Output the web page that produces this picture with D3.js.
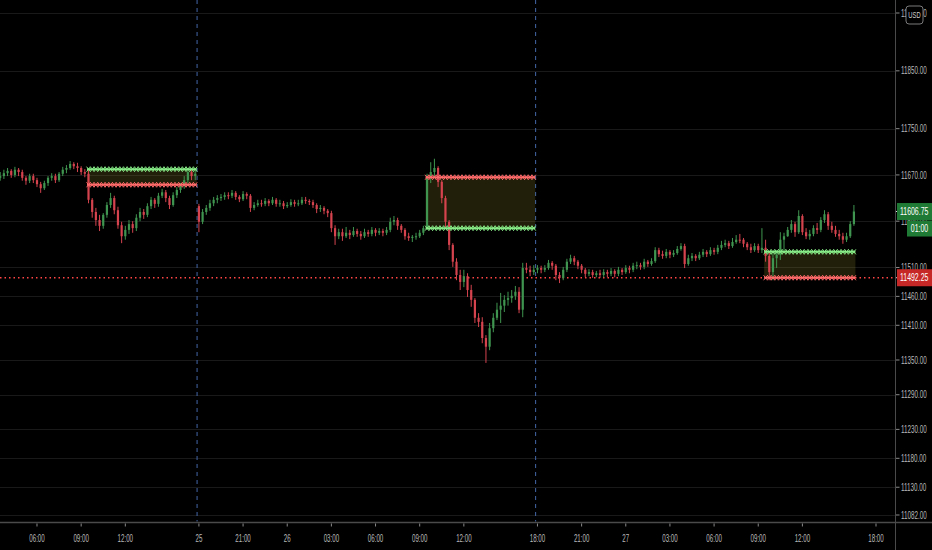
<!DOCTYPE html>
<html><head><meta charset="utf-8">
<script src="https://cdn.jsdelivr.net/npm/d3@7/dist/d3.min.js"></script>
<style>html,body{margin:0;padding:0;background:#000;overflow:hidden}</style>
</head><body>
<svg id="c" width="932" height="550"></svg>
<script>
// ---- DATA (15-minute bars, index 0 = 03:30) ----
const openP = [
11665,11668,11673,11677,11670,11679,11675,11665,11660,11668,11661,11654,11647,11656,11665,11668,11661,11672,11679,11682,11689,11685,11682,11675,
11672,11627,11606,11592,11582,11601,11618,11630,11609,11583,11564,11575,11585,11578,11596,11606,11601,11616,11627,11620,11634,11640,11630,11618,11635,11644,11651,11661,11675,11668,
11616,11589,11606,11613,11621,11627,11630,11632,11635,11634,11639,11632,11628,11637,11634,11613,11618,11621,11620,11625,11621,11627,11620,11621,11616,11618,11623,11620,11621,11627,11625,11623,11618,11611,11613,11608,
11604,11578,11564,11571,11564,11570,11566,11573,11568,11564,11571,11568,11575,11570,11573,11570,11575,11589,11592,11582,11575,11564,11561,11563,11564,11570,
11578,11665,11675,11682,11658,11630,11589,11549,11520,11497,11485,11495,11471,11454,11423,11416,11388,11373,11405,11423,11437,11444,11454,11457,11461,11468,11437,11509,11506,11502,
11506,11509,11506,11509,11518,11513,11497,11492,11506,11520,11526,11520,11513,11506,11499,11502,11497,11500,11497,11502,11499,11504,11499,11506,11502,11509,11506,11513,11514,11511,11520,11516,
11521,11540,11533,11530,11537,11532,11535,11542,11547,11516,11526,11530,11526,11532,11537,11533,11540,11537,11544,11549,11552,11547,11554,11558,11558,11551,11545,11540,11547,11540,
11544,11530,11502,11526,11532,11558,11564,11575,11585,11571,11599,11571,11564,11568,11578,11575,11592,11602,11582,11575,11568,11564,11558,11564,11585];
const highP = [
11675,11679,11682,11680,11684,11682,11679,11668,11672,11672,11665,11658,11660,11668,11673,11672,11675,11684,11687,11694,11692,11691,11685,11680,
11680,11630,11613,11601,11604,11623,11639,11634,11615,11589,11582,11592,11590,11602,11613,11611,11621,11632,11630,11639,11646,11644,11634,11640,11649,11656,11668,11682,11679,11680,
11620,11611,11618,11627,11632,11635,11637,11640,11640,11644,11642,11635,11642,11640,11637,11623,11627,11627,11630,11628,11632,11630,11627,11625,11623,11628,11627,11627,11632,11632,11628,11627,11621,11618,11616,11611,
11608,11583,11577,11577,11580,11575,11580,11577,11573,11577,11575,11580,11578,11578,11577,11580,11596,11599,11596,11585,11578,11570,11566,11570,11575,11582,
11672,11692,11698,11685,11661,11634,11592,11552,11526,11506,11506,11500,11480,11457,11431,11424,11393,11414,11431,11449,11466,11462,11468,11471,11478,11476,11518,11518,11513,11514,
11514,11513,11514,11523,11521,11516,11502,11511,11525,11532,11530,11523,11516,11509,11507,11506,11504,11506,11507,11506,11509,11507,11511,11509,11514,11513,11518,11520,11518,11525,11523,11526,
11545,11544,11539,11542,11540,11540,11547,11552,11551,11532,11535,11533,11537,11542,11540,11545,11544,11549,11556,11558,11556,11561,11566,11568,11561,11554,11551,11552,11551,11578,
11558,11537,11535,11540,11571,11570,11580,11592,11589,11609,11602,11578,11575,11583,11587,11597,11609,11606,11589,11582,11575,11570,11570,11590,11618];
const lowP = [
11660,11663,11668,11665,11666,11668,11660,11653,11656,11656,11649,11639,11644,11651,11660,11656,11658,11668,11673,11679,11680,11675,11670,11666,
11621,11596,11582,11573,11577,11596,11613,11602,11577,11552,11558,11568,11570,11573,11590,11594,11597,11611,11613,11615,11630,11623,11611,11615,11630,11639,11646,11656,11661,11661,
11571,11585,11601,11608,11616,11621,11625,11627,11628,11630,11627,11623,11625,11628,11606,11609,11615,11615,11616,11616,11618,11615,11615,11611,11613,11615,11615,11616,11618,11620,11618,11613,11604,11606,11602,11597,
11571,11549,11559,11556,11561,11559,11563,11563,11558,11561,11563,11564,11564,11566,11564,11566,11571,11583,11575,11570,11558,11556,11554,11558,11561,11566,
11575,11656,11665,11649,11621,11580,11540,11511,11488,11471,11476,11459,11442,11414,11407,11379,11345,11367,11398,11419,11414,11433,11444,11449,11454,11431,11424,11500,11495,11497,
11500,11500,11502,11506,11506,11488,11483,11488,11502,11516,11514,11507,11500,11493,11495,11492,11493,11492,11493,11493,11495,11493,11495,11497,11499,11500,11502,11507,11506,11507,11511,11513,
11518,11528,11525,11526,11526,11528,11532,11539,11509,11513,11521,11521,11523,11528,11528,11530,11532,11533,11540,11545,11542,11544,11551,11552,11545,11540,11535,11537,11535,11535,
11520,11488,11488,11509,11523,11540,11563,11570,11563,11568,11566,11559,11558,11564,11568,11571,11587,11575,11570,11563,11558,11551,11554,11561,11582];
const closeP = [
11668,11673,11677,11670,11679,11675,11665,11660,11668,11661,11654,11647,11656,11665,11668,11661,11672,11679,11682,11689,11685,11682,11675,11672,
11627,11606,11592,11582,11601,11618,11630,11609,11583,11564,11575,11585,11578,11596,11606,11601,11616,11627,11620,11634,11640,11630,11618,11635,11644,11651,11661,11675,11668,11672,
11589,11606,11613,11621,11627,11630,11632,11635,11634,11639,11632,11628,11637,11634,11613,11618,11621,11620,11625,11621,11627,11620,11621,11616,11618,11623,11620,11621,11627,11625,11623,11618,11611,11613,11608,11604,
11578,11564,11571,11564,11570,11566,11573,11568,11564,11571,11568,11575,11570,11573,11570,11575,11589,11592,11582,11575,11564,11561,11563,11564,11570,11578,
11665,11675,11682,11658,11630,11589,11549,11520,11497,11485,11495,11471,11454,11423,11416,11388,11373,11405,11423,11437,11444,11454,11457,11461,11468,11437,11509,11506,11502,11506,
11509,11506,11509,11518,11513,11497,11492,11506,11520,11526,11520,11513,11506,11499,11502,11497,11500,11497,11502,11499,11504,11499,11506,11502,11509,11506,11513,11514,11511,11520,11516,11521,
11540,11533,11530,11537,11532,11535,11542,11547,11516,11526,11530,11526,11532,11537,11533,11540,11537,11544,11549,11552,11547,11554,11558,11557,11551,11545,11540,11547,11540,11544,
11530,11502,11526,11532,11558,11564,11575,11585,11571,11599,11571,11564,11568,11578,11575,11592,11602,11582,11575,11568,11564,11558,11564,11585,11606.75];

const yTickValues = [11950,11850,11750,11670,11590,11510,11460,11410,11350,11290,11230,11180,11130,11082];
const xTickBars   = [10,22,34,54,66,78,90,102,114,126,146,158,170,182,194,206,218,238];
const xTickLabels = ["06:00","09:00","12:00","25","21:00","26","03:00","06:00","09:00","12:00","18:00","21:00","27","03:00","06:00","09:00","12:00","18:00"];
const sessionBreakBars = [53.5,145.5];
const boxStartBar = [24,116,208];
const boxEndBar   = [53,145,232];
const boxUpperLevel = [11680,11666,11537];
const boxLowerLevel = [11653,11578,11492.25];
const boxUpperIsGreen = [true,false,true];
const lastPrice = 11606.75;
const alertLevel = 11492.25;
const countdownText = "01:00";
const currencyText = "USD";

// ---- CHART ----
const W = 932, H = 550, axisX = 895.5, axisY = 522.5;
const FONT = "Liberation Sans, Arial, sans-serif";
const svg = d3.select("#c");
svg.append("rect").attr("width",W).attr("height",H).attr("fill","#000");

const x = d3.scaleLinear().domain([0,238]).range([0.2,876]);
const y = d3.scaleLinear().domain([11082,11950]).range([515,13]);

const GREEN = "#3f954f", RED = "#d4434e";
const LG = "#86ea86", LR = "#ff6a6a";

// condensed text: horizontal scale around the anchor point
function label(parent, tx, ty, str, opts){
  const g = parent.append("g").attr("transform",`translate(${tx},${ty}) scale(${opts.r},1)`);
  return g.append("text").attr("x",0).attr("y",0).attr("dominant-baseline","central")
    .attr("text-anchor",opts.anchor||"start")
    .attr("font-family",FONT).attr("font-size",opts.size).attr("fill",opts.fill).text(str);
}

const pg = svg.append("g");
svg.append("clipPath").attr("id","pc").append("rect").attr("x",0).attr("y",0).attr("width",axisX-0.5).attr("height",axisY-1);
pg.attr("clip-path","url(#pc)");

// grid
pg.selectAll("line.grid").data(yTickValues).join("line")
  .attr("x1",0).attr("x2",axisX).attr("y1",d=>Math.round(y(d))+0.5).attr("y2",d=>Math.round(y(d))+0.5)
  .attr("stroke","#191919").attr("stroke-width",1);

// session separators
pg.selectAll("line.sep").data(sessionBreakBars).join("line")
  .attr("x1",d=>x(d)).attr("x2",d=>x(d)).attr("y1",0).attr("y2",axisY)
  .attr("stroke","#4467a8").attr("stroke-width",1).attr("stroke-dasharray","4,4");

// boxes
const boxes = boxStartBar.map((s,i)=>({s, e:boxEndBar[i], top:boxUpperLevel[i], bot:boxLowerLevel[i], g:boxUpperIsGreen[i]}));
pg.selectAll("rect.box").data(boxes).join("rect")
  .attr("x",d=>x(d.s)-1.5).attr("width",d=>x(d.e)-x(d.s)+3)
  .attr("y",d=>y(d.top)).attr("height",d=>y(d.bot)-y(d.top))
  .attr("fill","rgba(150,140,40,0.22)");

// alert dotted line
pg.append("line").attr("x1",0).attr("x2",axisX).attr("y1",y(alertLevel)).attr("y2",y(alertLevel))
  .attr("stroke","#ff4545").attr("stroke-width",1.5).attr("stroke-dasharray","1.5,3");

// candles
const bars = closeP.map((c,i)=>({i,o:openP[i],h:highP[i],l:lowP[i],c}));
const cg = pg.append("g");
cg.selectAll("line.wick").data(bars).join("line")
  .attr("x1",d=>x(d.i)).attr("x2",d=>x(d.i)).attr("y1",d=>y(d.h)).attr("y2",d=>y(d.l))
  .attr("stroke",d=>d.c>=d.o?GREEN:RED).attr("stroke-width",1);
cg.selectAll("rect.body").data(bars).join("rect")
  .attr("x",d=>x(d.i)-1.1).attr("width",2.2)
  .attr("y",d=>y(Math.max(d.o,d.c))).attr("height",d=>Math.max(1,Math.abs(y(d.o)-y(d.c))))
  .attr("fill",d=>d.c>=d.o?GREEN:RED);

// box level lines with cross markers
function levelLine(d, level, color){
  const g = pg.append("g");
  g.append("line").attr("x1",x(d.s)-1.5).attr("x2",x(d.e)+1.5).attr("y1",y(level)).attr("y2",y(level))
    .attr("stroke",color).attr("stroke-width",2);
  const idx = d3.range(d.s, d.e+1);
  g.selectAll("path").data(idx).join("path")
    .attr("d",i=>{const cx=x(i), cy=y(level); return `M${cx-2},${cy-2.5}L${cx+2},${cy+2.5}M${cx-2},${cy+2.5}L${cx+2},${cy-2.5}`;})
    .attr("stroke",color).attr("stroke-width",1).attr("fill","none");
}
boxes.forEach(d=>{
  levelLine(d, d.top, d.g?LG:LR);
  levelLine(d, d.bot, d.g?LR:LG);
});

// axes lines
svg.append("line").attr("x1",0).attr("x2",W).attr("y1",axisY).attr("y2",axisY).attr("stroke","#4a4a4a").attr("stroke-width",1.5);
svg.append("line").attr("x1",axisX).attr("x2",axisX).attr("y1",0).attr("y2",H).attr("stroke","#4a4a4a").attr("stroke-width",1);

// y axis ticks & labels
const yAx = svg.append("g");
yAx.selectAll("line").data(yTickValues).join("line")
  .attr("x1",axisX+0.5).attr("x2",axisX+4).attr("y1",d=>y(d)).attr("y2",d=>y(d)).attr("stroke","#8a8a8a");
yTickValues.forEach(v=>label(yAx, 901, y(v), v.toFixed(2), {r:0.63, size:10, fill:"#b8b8b8"}));

// x axis ticks & labels
const xAx = svg.append("g");
xAx.selectAll("line").data(xTickBars).join("line")
  .attr("x1",d=>x(d)).attr("x2",d=>x(d)).attr("y1",axisY+1).attr("y2",axisY+4).attr("stroke","#8a8a8a");
xTickLabels.forEach((t,i)=>label(xAx, x(xTickBars[i]), 538, t, {r:0.62, size:10, fill:"#b8b8b8", anchor:"middle"}));

// price labels
function priceTag(v, fill){
  const cy = y(v);
  svg.append("line").attr("x1",axisX+0.5).attr("x2",axisX+4).attr("y1",cy).attr("y2",cy).attr("stroke","#ddd");
  svg.append("rect").attr("x",897).attr("y",cy-8.5).attr("width",35).attr("height",17).attr("fill",fill);
  label(svg, 900, cy, v.toFixed(2), {r:0.66, size:10.5, fill:"#fff"});
  return cy;
}
const cyLast = priceTag(lastPrice, "#1f7a35");
svg.append("rect").attr("x",907).attr("y",cyLast+9).attr("width",25).attr("height",16).attr("fill","#1f7a35");
label(svg, 919.5, cyLast+17, countdownText, {r:0.66, size:10.5, fill:"#fff", anchor:"middle"});
priceTag(alertLevel, "#c62828");

// currency badge
svg.append("rect").attr("x",906).attr("y",6).attr("width",17).attr("height",18).attr("rx",3)
  .attr("fill","#000").attr("stroke","#7a7a7a").attr("stroke-width",1);
label(svg, 914.5, 15.5, currencyText, {r:0.65, size:9, fill:"#d0d0d0", anchor:"middle"});
</script>
</body></html>
